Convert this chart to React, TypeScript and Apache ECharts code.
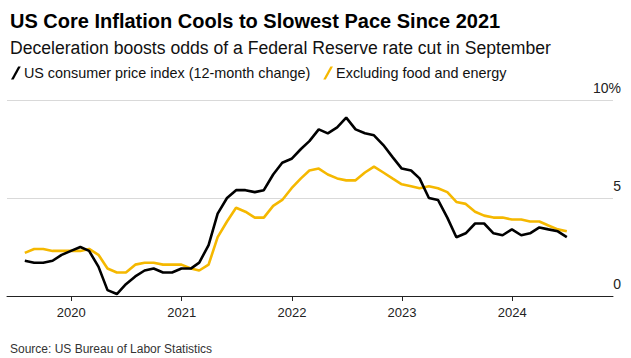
import React, { useEffect, useRef } from "react";
import * as echarts from "echarts";

const START_YEAR = 2019;
const START_MONTH = 7; // July 2019 .. June 2024, plotted at month end

const cpiAll = [
  1.8, 1.7, 1.7, 1.8, 2.1, 2.3,
  2.5, 2.3, 1.5, 0.3, 0.1, 0.6, 1.0, 1.3, 1.4, 1.2, 1.2, 1.4,
  1.4, 1.7, 2.6, 4.2, 5.0, 5.4, 5.4, 5.3, 5.4, 6.2, 6.8, 7.0,
  7.5, 7.9, 8.5, 8.3, 8.6, 9.1, 8.5, 8.3, 8.2, 7.7, 7.1, 6.5,
  6.4, 6.0, 5.0, 4.9, 4.0, 3.0, 3.2, 3.7, 3.7, 3.2, 3.1, 3.4,
  3.1, 3.2, 3.5, 3.4, 3.3, 3.0,
];

const cpiCore = [
  2.2, 2.4, 2.4, 2.3, 2.3, 2.3,
  2.3, 2.4, 2.1, 1.4, 1.2, 1.2, 1.6, 1.7, 1.7, 1.6, 1.6, 1.6,
  1.4, 1.3, 1.6, 3.0, 3.8, 4.5, 4.3, 4.0, 4.0, 4.6, 4.9, 5.5,
  6.0, 6.4, 6.5, 6.2, 6.0, 5.9, 5.9, 6.3, 6.6, 6.3, 6.0, 5.7,
  5.6, 5.5, 5.6, 5.5, 5.3, 4.8, 4.7, 4.3, 4.1, 4.0, 4.0, 3.9,
  3.9, 3.8, 3.8, 3.6, 3.4, 3.3,
];

const seriesNames = [
  "US consumer price index (12-month change)",
  "Excluding food and energy",
];

const yTicks = [0, 5, 10];

function monthEnd(i: number): number {
  const m = START_MONTH - 1 + i;
  const y = START_YEAR + Math.floor(m / 12);
  const mm = m % 12;
  return Date.UTC(y, mm + 1, 0);
}

const FONT = "Liberation Sans, Arial, sans-serif";

export default function App() {
  const ref = useRef<HTMLDivElement>(null);
  useEffect(() => {
    document.body.style.margin = "0";
    if (!ref.current) return;
    const chart = echarts.init(ref.current, null, { renderer: "svg" });
    const allData = cpiAll.map((v, i) => [monthEnd(i), v]);
    const coreData = cpiCore.map((v, i) => [monthEnd(i), v]);
    const slash = "path://M0,12 L2.4,12 L9,0 L6.6,0 Z";
    chart.setOption({
      animation: false,
      textStyle: { fontFamily: FONT },
      title: [
        {
          text: "US Core Inflation Cools to Slowest Pace Since 2021",
          left: 5,
          top: 6,
          textStyle: { fontSize: 20, fontWeight: "bold", color: "#000", fontFamily: FONT },
        },
        {
          text: "Deceleration boosts odds of a Federal Reserve rate cut in September",
          left: 5,
          top: 34,
          textStyle: { fontSize: 17.6, fontWeight: "normal", color: "#111", fontFamily: FONT },
        },
        {
          text: "Source: US Bureau of Labor Statistics",
          left: 5,
          top: 338,
          textStyle: { fontSize: 12, fontWeight: "normal", color: "#333", fontFamily: FONT },
        },
      ],
      legend: {
        left: 6,
        top: 61,
        itemWidth: 10,
        itemHeight: 13,
        itemGap: 13,
        textStyle: { fontSize: 14.4, color: "#111", fontFamily: FONT, padding: [0, 0, 0, -2] },
        data: [
          { name: seriesNames[0], icon: slash, itemStyle: { color: "#000" } },
          { name: seriesNames[1], icon: slash, itemStyle: { color: "#f5b800" } },
        ],
      },
      grid: { left: 7, right: 18, top: 100, bottom: 62 },
      xAxis: {
        type: "time",
        min: Date.UTC(2019, 5, 2),
        max: Date.UTC(2024, 10, 30),
        minInterval: 365 * 86400000,
        splitNumber: 5,
        axisLine: { lineStyle: { color: "#222", width: 1 } },
        axisTick: { show: true, length: 5, lineStyle: { color: "#222" } },
        axisLabel: {
          formatter: "{yyyy}",
          fontSize: 13,
          color: "#222",
          margin: 10,
          fontFamily: FONT,
        },
        splitLine: { show: false },
      },
      yAxis: {
        type: "value",
        position: "right",
        min: yTicks[0],
        max: yTicks[yTicks.length - 1],
        interval: 5,
        axisLine: { show: false },
        axisTick: { show: false },
        splitLine: { show: true, lineStyle: { color: "#d9d9d9", width: 1 } },
        axisLabel: {
          formatter: (v: number) => (v === 10 ? "10%" : String(v)),
          align: "right",
          verticalAlign: "bottom",
          margin: 8,
          padding: [0, 0, 5, 0],
          fontSize: 14,
          color: "#222",
          fontFamily: FONT,
        },
      },
      series: [
        {
          name: seriesNames[1],
          type: "line",
          data: coreData,
          showSymbol: false,
          lineStyle: { color: "#f5b800", width: 2.6 },
          itemStyle: { color: "#f5b800" },
          z: 2,
        },
        {
          name: seriesNames[0],
          type: "line",
          data: allData,
          showSymbol: false,
          lineStyle: { color: "#000", width: 2.6 },
          itemStyle: { color: "#000" },
          z: 3,
        },
      ],
    });
    return () => chart.dispose();
  }, []);
  return <div ref={ref} style={{ width: 631, height: 358 }} />;
}
